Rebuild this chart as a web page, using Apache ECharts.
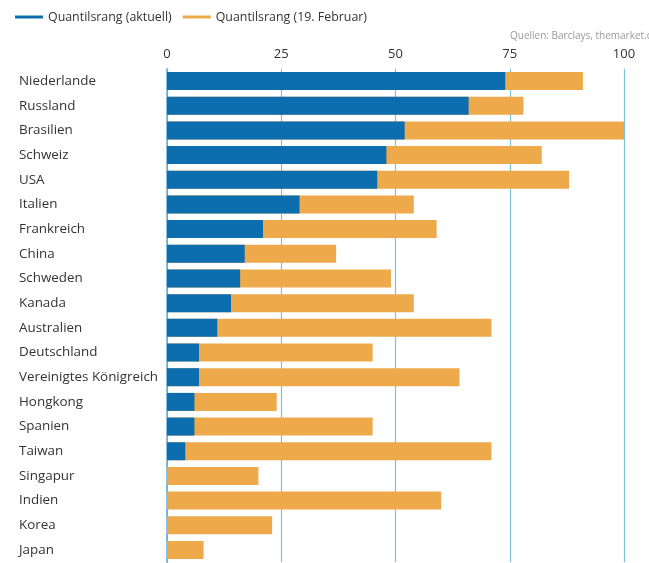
<!DOCTYPE html>
<html>
<head>
<meta charset="utf-8">
<script src="https://cdn.jsdelivr.net/npm/echarts@6/dist/echarts.min.js"></script>
<style>
  html, body { margin: 0; padding: 0; background: #ffffff; }
  #chart { width: 649px; height: 563px; }
</style>
</head>
<body>
<div id="chart"></div>
<script>
// Countries, top to bottom
const categories = [
  'Niederlande', 'Russland', 'Brasilien', 'Schweiz', 'USA', 'Italien',
  'Frankreich', 'China', 'Schweden', 'Kanada', 'Australien', 'Deutschland',
  'Vereinigtes Königreich', 'Hongkong', 'Spanien', 'Taiwan', 'Singapur',
  'Indien', 'Korea', 'Japan'
];
// Quantile rank, current
const rankCurrent = [74, 66, 52, 48, 46, 29, 21, 17, 16, 14, 11, 7, 7, 6, 6, 4, 0, 0, 0, 0];
// Quantile rank, 19 February
const rankFeb19 = [91, 78, 100, 82, 88, 54, 59, 37, 49, 54, 71, 45, 64, 24, 45, 71, 20, 60, 23, 8];
// Value axis ticks
const axisTicks = [0, 25, 50, 75, 100];

const nameCurrent = 'Quantilsrang (aktuell)';
const nameFeb = 'Quantilsrang (19. Februar)';
const FONT = '"Open Sans", "DejaVu Sans", sans-serif';

const chart = echarts.init(document.getElementById('chart'), null, { renderer: 'canvas' });

chart.setOption({
  animation: false,
  backgroundColor: '#ffffff',
  textStyle: { fontFamily: FONT },
  legend: {
    data: [nameCurrent, nameFeb],
    left: 10,
    top: 6,
    icon: 'rect',
    itemWidth: 28,
    itemHeight: 3,
    itemGap: 11,
    textStyle: { fontSize: 12.4, color: '#333333', fontFamily: FONT }
  },
  graphic: [{
    type: 'text',
    left: 510,
    top: 31,
    style: {
      text: 'Quellen: Barclays, themarket.ch',
      fontSize: 10,
      fill: '#9a9a9a',
      fontFamily: FONT
    }
  }],
  grid: { left: 167, right: 25, top: 68.7, bottom: 0.7, containLabel: false },
  xAxis: {
    type: 'value',
    position: 'top',
    min: axisTicks[0],
    max: axisTicks[axisTicks.length - 1],
    interval: axisTicks[1] - axisTicks[0],
    axisLine: { show: false },
    axisTick: { show: false },
    axisLabel: { margin: 8, fontSize: 13, color: '#333333', fontFamily: FONT },
    splitLine: { show: true, lineStyle: { color: '#7cc3d6', width: 1.2 } }
  },
  yAxis: {
    type: 'category',
    data: categories,
    inverse: true,
    axisLine: { show: true, lineStyle: { color: '#6aa9cf', width: 1.5 } },
    axisTick: { show: false },
    axisLabel: { align: 'left', margin: 148, fontSize: 13.4, color: '#333333', fontFamily: FONT }
  },
  series: [
    {
      name: nameFeb,
      type: 'bar',
      data: rankFeb19,
      barWidth: 18,
      barGap: '-100%',
      itemStyle: { color: '#eda94a' },
      z: 2
    },
    {
      name: nameCurrent,
      type: 'bar',
      data: rankCurrent,
      barWidth: 18,
      barGap: '-100%',
      itemStyle: { color: '#0d6eaf' },
      z: 3
    }
  ]
});
</script>
</body>
</html>
